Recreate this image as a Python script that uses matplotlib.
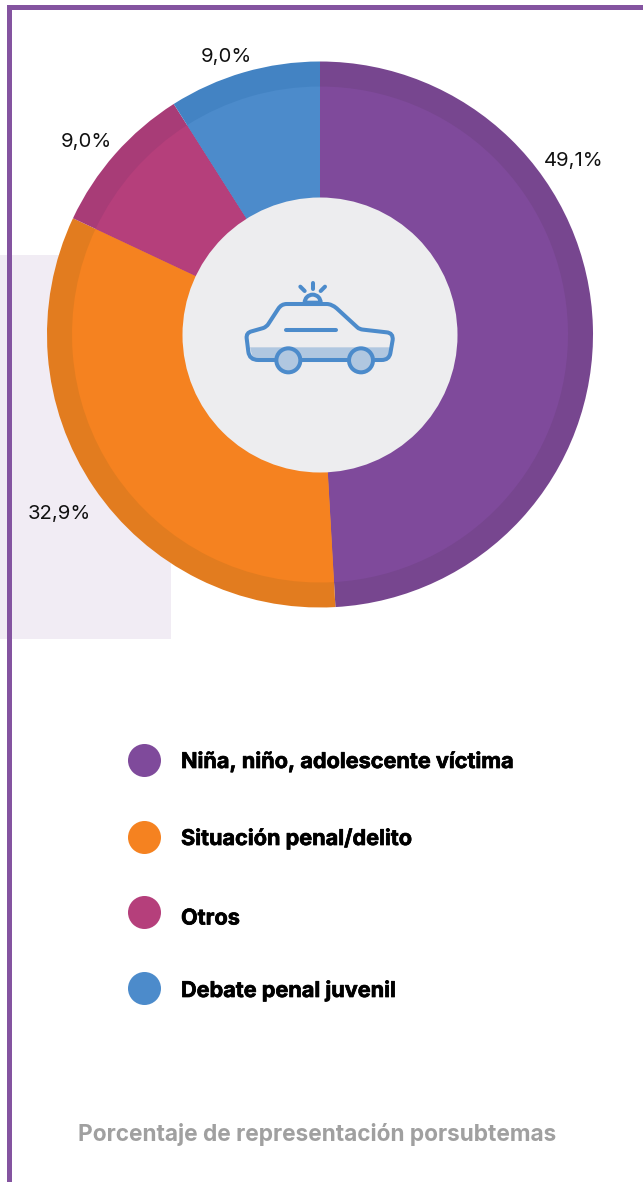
import matplotlib
matplotlib.use('Agg')
import matplotlib.pyplot as plt
import matplotlib.patheffects as pe
from matplotlib.patches import Circle, Rectangle, Wedge, PathPatch
from matplotlib.path import Path

# Datos
subtemas = ['Niña, niño, adolescente víctima', 'Situación penal/delito', 'Otros', 'Debate penal juvenil']
valores = [49.1, 32.9, 9.0, 9.0]
etiquetas = ['49,1%', '32,9%', '9,0%', '9,0%']
colores = ['#7f4a9b', '#f58220', '#b53f7b', '#4c8bcb']
colores_borde = ['#77468f', '#e27c1f', '#a83c77', '#4383c3']

etiqueta_x = [574, 59, 86, 226]
etiqueta_y = [161, 514, 142, 57]
leyenda_y = [760.5, 837.5, 912.5, 988.5]
leyenda_texto_y = [761.5, 838.5, 918.5, 990.5]

AZUL = '#4c8bcb'
AZUL_CLARO = '#b0c7e0'
CENTRO = (320, 334.5)

fig = plt.figure(figsize=(6.43, 11.82), dpi=100)
ax = fig.add_axes([0, 0, 1, 1])

# fondo y marco
ax.add_patch(Rectangle((0, 255), 171, 384, color='#f1ecf4', lw=0, zorder=0))
ax.add_patch(Rectangle((7, 5), 636, 5, color='#8454a0', lw=0, zorder=1))
ax.add_patch(Rectangle((7, 5), 5, 1177, color='#8454a0', lw=0, zorder=1))

# anillo exterior y anillo interior (eje y invertido: sentido horario)
ax.pie(valores, colors=colores_borde, center=CENTRO, radius=273, startangle=-90,
       counterclock=True, wedgeprops={'lw': 0, 'zorder': 2})
ax.pie(valores, colors=colores, center=CENTRO, radius=248, startangle=-90,
       counterclock=True, wedgeprops={'lw': 0, 'zorder': 3})
ax.add_patch(Circle((320, 335), 137.5, color='#ededef', lw=0, zorder=4))

ax.set_xlim(0, 643)
ax.set_ylim(1182, 0)
ax.set_aspect('auto')
ax.axis('off')

for x, y, t in zip(etiqueta_x, etiqueta_y, etiquetas):
    ax.text(x, y, t, ha='center', va='center', fontsize=14.6, family='Inter',
            color='#111111', zorder=6)

# leyenda, con un trazo fino para acercarse al peso de la fuente original
grueso = [pe.withStroke(linewidth=0.5, foreground='black')]
for y, ty, c, s in zip(leyenda_y, leyenda_texto_y, colores, subtemas):
    ax.add_patch(Circle((144.5, y), 16.5, color=c, lw=0, zorder=5))
    ax.text(181, ty, s, ha='left', va='center', fontsize=15.6, family='Inter',
            fontweight='bold', color='black', zorder=6, path_effects=grueso)

ax.text(317.5, 1134, 'Porcentaje de representación porsubtemas', ha='center', va='center',
        fontsize=16.3, family='Inter', fontweight='bold', color='#a0a0a0', zorder=6)


# icono del auto, coordenadas sobre el recorte ampliado x3
def z(px, py):
    return (220 + px / 3, 260 + py / 3)


lw = 2.9
banda = [z(90, 262), z(512, 262), z(505, 300), z(100, 300)]
ax.fill([p[0] for p in banda], [p[1] for p in banda], color=AZUL_CLARO, lw=0, zorder=5)

C = Path.CURVE3
L = Path.LINETO
puntos = [(165, 300), (115, 300), (88, 300), (85, 275), (80, 235), (78, 218), (95, 214),
          (130, 204), (140, 200), (145, 192), (175, 146), (184, 132), (200, 132), (320, 132),
          (335, 132), (350, 145), (412, 202), (418, 208), (430, 209), (500, 217), (520, 219),
          (518, 240), (511, 280), (507, 300), (485, 300), (465, 300)]
codigos = [Path.MOVETO, L, C, C, L, C, C, L, C, C, L, C, C, L, C, C, L, C, C, L, C, C, L, C, C, L]
ax.add_patch(PathPatch(Path([z(*p) for p in puntos], codigos), fc='none', ec=AZUL, lw=lw,
                       capstyle='round', zorder=6))

for (x0, y0), (x1, y1) in [((245, 300), (385, 300)), ((197, 211), (349, 211)), ((255, 133), (303, 133)),
                           ((278, 68), (278, 88)), ((241, 80), (254, 93)), ((315, 80), (302, 93))]:
    a, b = z(x0, y0), z(x1, y1)
    ax.plot([a[0], b[0]], [a[1], b[1]], color=AZUL, lw=lw, solid_capstyle='round', zorder=6)

ax.add_patch(Wedge(z(278, 128), 8, 180, 360, fc='none', ec=AZUL, lw=lw, zorder=6))
for cx in [205, 423]:
    ax.add_patch(Circle(z(cx, 301), 12, fc=AZUL_CLARO, ec=AZUL, lw=lw, zorder=7))

fig.savefig('out.png', dpi=100)
